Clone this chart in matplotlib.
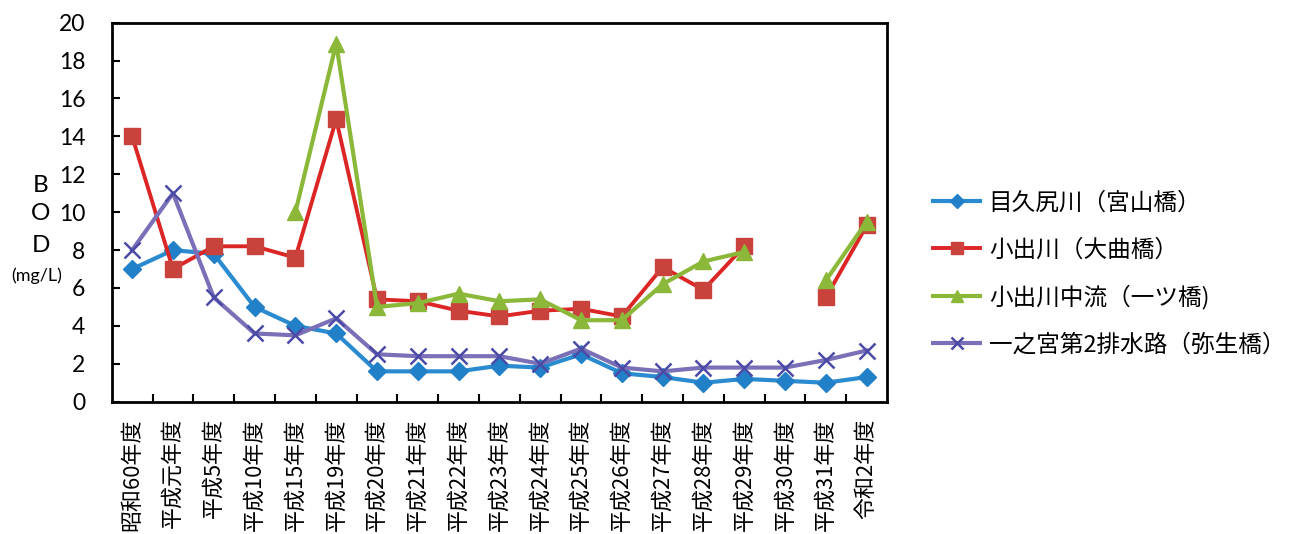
import numpy as np
import matplotlib
matplotlib.use("Agg")
import matplotlib.pyplot as plt
from matplotlib.ticker import FixedLocator, NullFormatter

plt.rcParams['font.family'] = ['Noto Sans CJK JP', 'DejaVu Sans']

years = ['昭和60年度', '平成元年度', '平成5年度', '平成10年度', '平成15年度',
         '平成19年度', '平成20年度', '平成21年度', '平成22年度', '平成23年度',
         '平成24年度', '平成25年度', '平成26年度', '平成27年度', '平成28年度',
         '平成29年度', '平成30年度', '平成31年度', '令和2年度']

nan = np.nan
mekujiri = [7.0, 8.0, 7.8, 5.0, 4.0, 3.6, 1.6, 1.6, 1.6, 1.9,
            1.8, 2.5, 1.5, 1.3, 1.0, 1.2, 1.1, 1.0, 1.3]
koide_omagari = [14.0, 7.0, 8.2, 8.2, 7.6, 14.9, 5.4, 5.3, 4.8, 4.5,
                 4.8, 4.9, 4.5, 7.1, 5.9, 8.2, nan, 5.5, 9.3]
koide_hitotsu = [nan, nan, nan, nan, 10.0, 18.9, 5.0, 5.2, 5.7, 5.3,
                 5.4, 4.3, 4.3, 6.2, 7.4, 7.9, nan, 6.4, 9.5]
ichinomiya = [8.0, 11.0, 5.5, 3.6, 3.5, 4.4, 2.5, 2.4, 2.4, 2.4,
              2.0, 2.8, 1.8, 1.6, 1.8, 1.8, 1.8, 2.2, 2.7]

series_names = ['目久尻川（宮山橋）', '小出川（大曲橋）', '小出川中流（一ツ橋)', '一之宮第2排水路（弥生橋）']

y_ticks = list(range(0, 21, 2))

fig = plt.figure(figsize=(12.89, 5.34), dpi=100)
ax = fig.add_axes([0.0867, 0.2478, 0.6015, 0.7097])

x = np.arange(len(years))

ax.plot(x, mekujiri, color='#2b8bd0', lw=3.0, marker='D', ms=9,
        mfc='#2280c8', mec='#2280c8', label=series_names[0], zorder=3)
ax.plot(x, koide_omagari, color='#dc2626', lw=2.8, marker='s', ms=11.5,
        mfc='#c9433c', mec='#c9433c', label=series_names[1], zorder=4)
ax.plot(x, koide_hitotsu, color='#8cb83a', lw=3.0, marker='^', ms=11.5,
        mfc='#8cb83a', mec='#8cb83a', label=series_names[2], zorder=5)
ax.plot(x, ichinomiya, color='#7a70b8', lw=3.0, marker='x', ms=11, mew=1.8,
        mec='#4b4ba6', label=series_names[3], zorder=6)

ax.set_xlim(-0.5, len(years) - 0.5)
ax.set_ylim(0, 20)

ax.set_yticks(y_ticks)
ax.set_yticklabels([str(v) for v in y_ticks], fontsize=16.5, family=['Lato', 'DejaVu Sans'])
ax.tick_params(axis='y', direction='in', length=6, width=1.5, pad=19)

ax.set_xticks(x)
ax.set_xticklabels(years, rotation=90, fontsize=15.8, va='top')
ax.tick_params(axis='x', which='major', length=0, pad=12)
ax.xaxis.set_minor_locator(FixedLocator(np.arange(0.5, len(years) - 1, 1.0)))
ax.xaxis.set_minor_formatter(NullFormatter())
ax.tick_params(axis='x', which='minor', direction='in', length=6, width=1.5)

for sp in ax.spines.values():
    sp.set_linewidth(2)
    sp.set_color('black')

# stacked axis title
for letter, yy in zip('BOD', [185, 214, 245]):
    fig.text(41 / 1289, 1 - yy / 534, letter, fontsize=17.5, ha='center', va='center',
             family=['Lato', 'DejaVu Sans'])
fig.text(37 / 1289, 1 - 276 / 534, '(mg/L)', fontsize=13, ha='center', va='center',
         family=['Lato', 'DejaVu Sans'])

leg = fig.legend(loc='center left', bbox_to_anchor=(912 / 1289, 1 - 274 / 534),
                 fontsize=17, frameon=False, handlelength=2.0, handletextpad=0.35,
                 labelspacing=1.0, markerscale=0.8)

fig.savefig('out.png', dpi=100)
